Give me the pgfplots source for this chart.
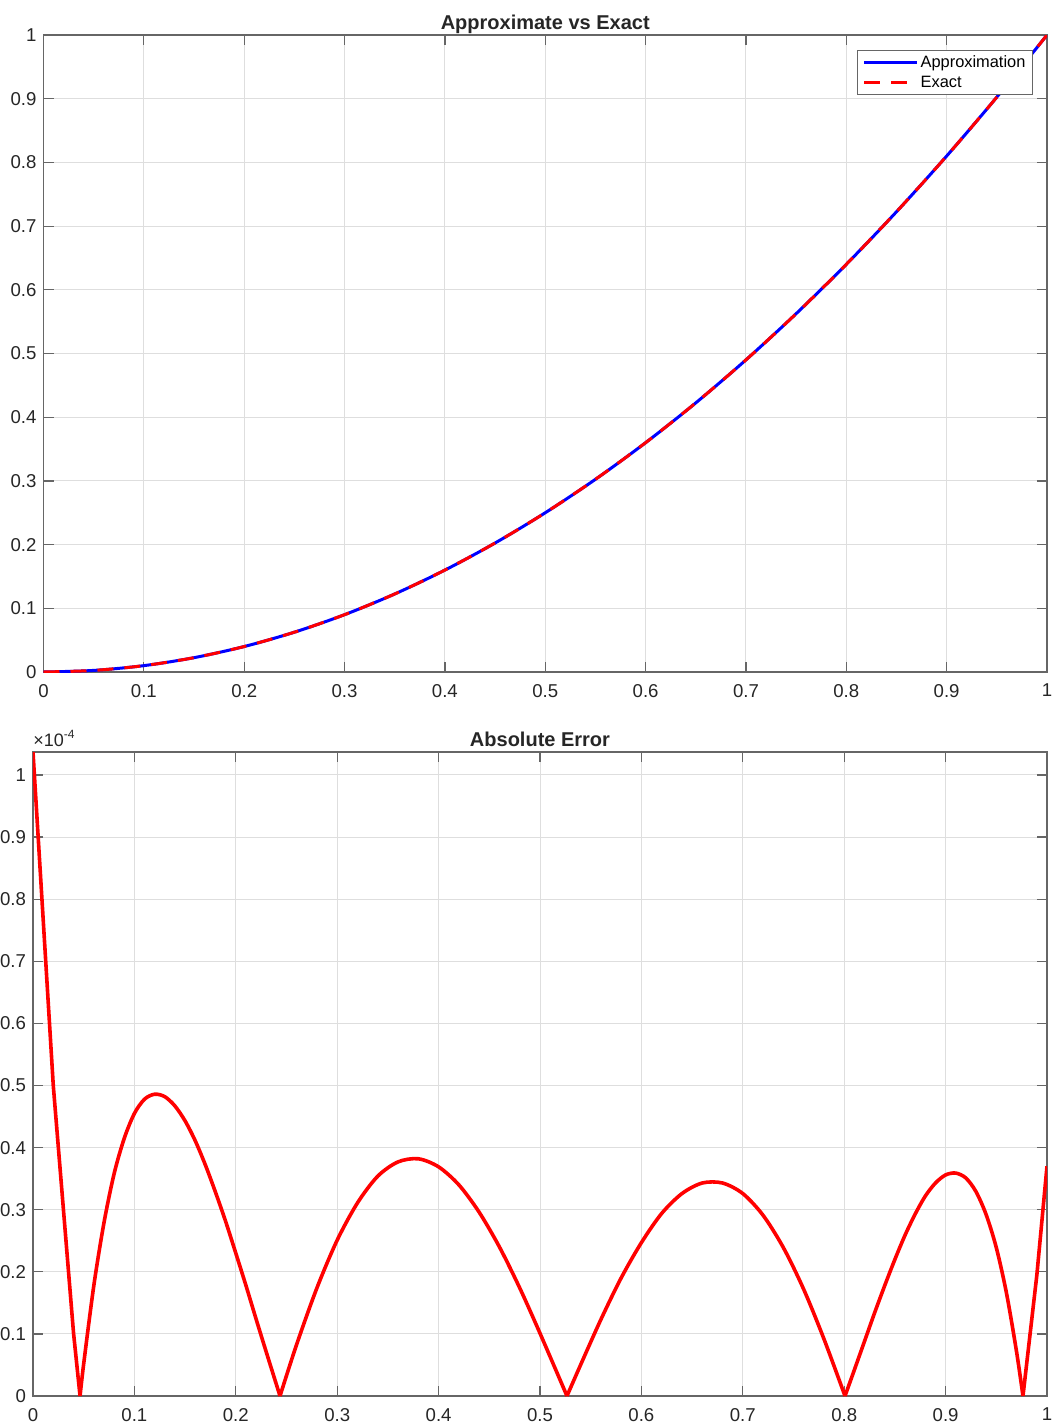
\documentclass[border=0pt]{standalone}
\usepackage{pgfplots}
\pgfplotsset{compat=1.18}
\usepackage{fontspec}
\setmainfont{Liberation Sans}
\begin{document}
\begin{tikzpicture}
\useasboundingbox (0pt,0pt) rectangle (526.5pt,-712.5pt);
\pgfplotsset{
  matlab/.style={
    scale only axis,
    xmin=0,xmax=1,
    xtick={0,0.1,0.2,0.3,0.4,0.5,0.6,0.7,0.8,0.9,1},
    ytick={0,0.1,0.2,0.3,0.4,0.5,0.6,0.7,0.8,0.9,1},
    grid=major,
    major grid style={black!13, line width=0.5pt},
    axis line style={black!60, line width=0.6pt},
    tick style={black!60, line width=0.6pt},
    major tick length=5pt,
    tick align=inside,
    ticklabel style={font=\fontsize{9.3}{10}\selectfont, text=black!85},
    xticklabel style={yshift=-2.5pt},
    /pgf/number format/assume math mode=true,
    /pgf/number format/fixed,
    title style={font=\bfseries\fontsize{10}{12}\selectfont, text=black!85, yshift=-9pt,
      text height=7.3pt, text depth=2.1pt},
  }
}
\begin{axis}[matlab, at={(21.75pt,-336pt)}, anchor=south west,
  width=501.75pt, height=318.5pt, ymin=0, ymax=1,
  title={Approximate vs Exact},
  legend cell align=left,
  legend style={at={(0.986,0.976)}, anchor=north east, draw=black!60, line width=0.5pt,
    font=\fontsize{8.2}{9}\selectfont, inner xsep=2.5pt, inner ysep=1pt, row sep=0pt, fill=white,
    nodes={inner sep=1pt, text height=6.3pt, text depth=1.7pt}},
  legend image code/.code={\draw[#1] (0pt,0pt) -- (26.5pt,0pt);},
]
\addplot[blue, line width=1.5pt, smooth] table {
x y
0 0
0.05 0.0025
0.1 0.01
0.15 0.0225
0.2 0.04
0.25 0.0625
0.3 0.09
0.35 0.1225
0.4 0.16
0.45 0.2025
0.5 0.25
0.55 0.3025
0.6 0.36
0.65 0.4225
0.7 0.49
0.75 0.5625
0.8 0.64
0.85 0.7225
0.9 0.81
0.95 0.9025
1 1
};
\addlegendentry{Approximation}
\addplot[red, line width=1.5pt, smooth, dash pattern=on 8pt off 5.5pt] table {
x y
0 0
0.05 0.0025
0.1 0.01
0.15 0.0225
0.2 0.04
0.25 0.0625
0.3 0.09
0.35 0.1225
0.4 0.16
0.45 0.2025
0.5 0.25
0.55 0.3025
0.6 0.36
0.65 0.4225
0.7 0.49
0.75 0.5625
0.8 0.64
0.85 0.7225
0.9 0.81
0.95 0.9025
1 1
};
\addlegendentry{Exact}
\end{axis}

\begin{axis}[matlab, name=err, at={(16.5pt,-698pt)}, anchor=south west,
  width=507pt, height=322pt, ymin=0, ymax=1.037,
  title={Absolute Error},
]
\addplot[red, line width=1.8pt, line join=round] table {
x y
0 1.037
0.02 0.50
0.04 0.101
0.0464 0
};
\addplot[red, line width=1.8pt, smooth, line join=round] table {
x y
0.0464 0
0.05 0.052
0.06 0.178
0.07 0.279
0.08 0.358
0.09 0.415
0.10 0.455
0.11 0.478
0.12 0.486
0.13 0.482
0.14 0.467
0.15 0.443
0.16 0.411
0.17 0.372
0.18 0.328
0.19 0.281
0.20 0.230
0.21 0.178
0.22 0.124
0.23 0.071
0.2436 0
};
\addplot[red, line width=1.8pt, smooth, line join=round] table {
x y
0.2436 0
0.26 0.083
0.28 0.174
0.30 0.251
0.32 0.311
0.34 0.354
0.36 0.377
0.38 0.382
0.40 0.369
0.42 0.340
0.44 0.296
0.46 0.240
0.48 0.174
0.50 0.101
0.5266 0
};
\addplot[red, line width=1.8pt, smooth, line join=round] table {
x y
0.5266 0
0.54 0.050
0.56 0.123
0.58 0.190
0.60 0.247
0.62 0.294
0.64 0.326
0.66 0.343
0.68 0.343
0.70 0.326
0.72 0.291
0.74 0.239
0.76 0.172
0.78 0.092
0.8008 0
};
\addplot[red, line width=1.8pt, smooth, line join=round] table {
x y
0.8008 0
0.81 0.042
0.82 0.088
0.83 0.134
0.84 0.178
0.85 0.220
0.86 0.259
0.87 0.293
0.88 0.322
0.89 0.343
0.90 0.356
0.91 0.359
0.92 0.351
0.93 0.329
0.94 0.292
0.95 0.239
0.96 0.166
0.97 0.071
0.9763 0
};
\addplot[red, line width=1.8pt, line join=round] table {
x y
0.9763 0
0.99 0.195
1 0.37
};
\end{axis}
\node[anchor=south west, inner sep=0pt, yshift=2.5pt, font=\fontsize{9}{10}\selectfont, text=black!85]
  at (err.north west) {×10\textsuperscript{-4}};
\end{tikzpicture}
\end{document}
